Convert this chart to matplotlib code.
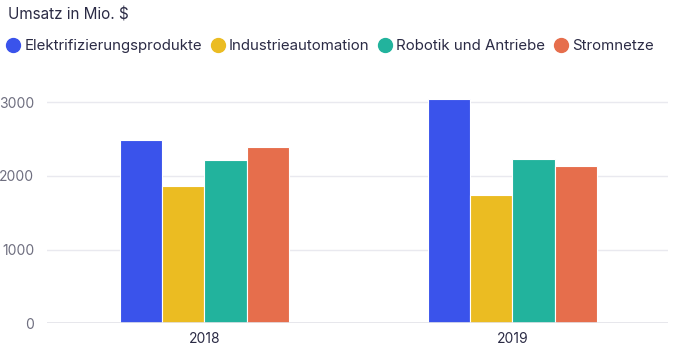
import matplotlib
matplotlib.use("Agg")
import matplotlib.pyplot as plt
from matplotlib.lines import Line2D
import numpy as np

plt.rcParams['font.family'] = ['Inter', 'DejaVu Sans']

years = ["2018", "2019"]
series = ["Elektrifizierungsprodukte", "Industrieautomation", "Robotik und Antriebe", "Stromnetze"]
elektrifizierung = [2490, 3050]
industrieautomation = [1865, 1740]
robotik = [2215, 2235]
stromnetze = [2395, 2135]
yticks = [0, 1000, 2000, 3000]
colors = ["#3a53eb", "#ebbc22", "#22b39d", "#e66e4c"]

values = [elektrifizierung, industrieautomation, robotik, stromnetze]

fig = plt.figure(figsize=(6.75, 3.52), dpi=100)
ax = fig.add_axes([47/675, 1-323.3/352, 621/675, (323.3-87.5)/352])

x = np.arange(len(years))
w = 0.137
for i, (vals, c) in enumerate(zip(values, colors)):
    ax.bar(x + (i - 1.5) * w, vals, width=w, color=c, edgecolor="white", linewidth=0.8, zorder=3)

ax.set_xlim(-0.511, 1.505)
ax.set_ylim(0, 3200)
ax.set_yticks(yticks)
ax.set_yticklabels([str(t) for t in yticks])
ax.set_xticks(x)
ax.set_xticklabels(years)
ax.grid(axis="y", color="#e9e9ef", linewidth=1.0, zorder=0)
for s in ax.spines.values():
    s.set_visible(False)
ax.axhline(0, color="#e4e4ea", linewidth=1.2, zorder=4)
ax.tick_params(axis="y", length=0, pad=9, labelsize=10, labelcolor="#6f6f80")
ax.tick_params(axis="x", length=0, pad=6, labelsize=10, labelcolor="#2b2b45")

fig.text(8/675, 1-15/352, "Umsatz in Mio. $", fontsize=11, color="#2b2b45", va="center", ha="left")

handles = [Line2D([0], [0], marker="o", linestyle="", markersize=10, markerfacecolor=c, markeredgecolor=c) for c in colors]
fig.legend(handles, series, loc="center left", bbox_to_anchor=(-2/675, 1-46/352), ncol=4, frameon=False,
           fontsize=10.8, labelcolor="#2b2b45", handletextpad=0.15, columnspacing=0.45, handlelength=1.2, borderaxespad=0)

fig.savefig("out.png", dpi=100, facecolor="white")
